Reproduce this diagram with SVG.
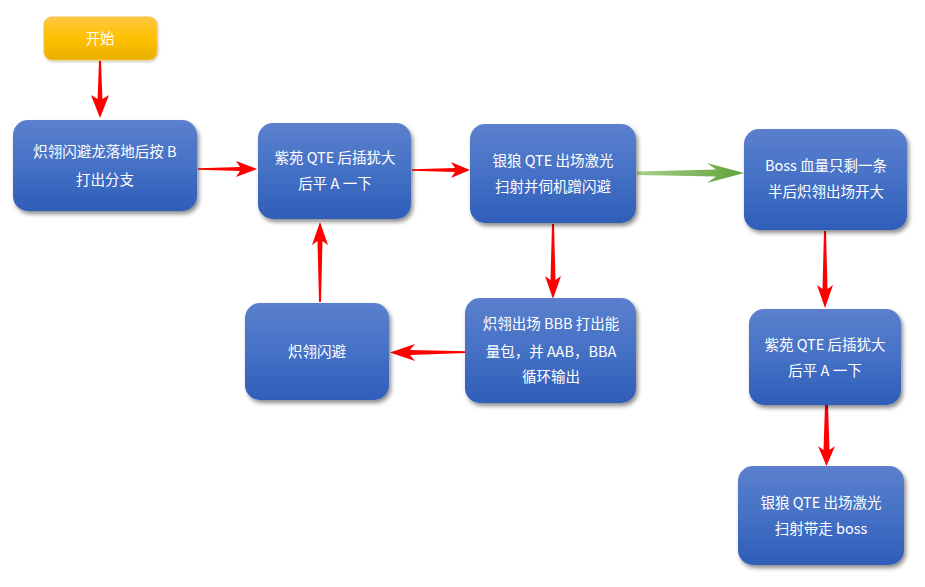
<svg xmlns="http://www.w3.org/2000/svg" width="925" height="587" viewBox="0 0 925 587">
<defs>
<linearGradient id="gb" x1="0" y1="0" x2="0" y2="1">
<stop offset="0" stop-color="#5b80cd"/>
<stop offset="0.5" stop-color="#4571c6"/>
<stop offset="1" stop-color="#2f5db8"/>
</linearGradient>
<linearGradient id="gy" x1="0" y1="0" x2="0" y2="1">
<stop offset="0" stop-color="#ffc844"/>
<stop offset="0.5" stop-color="#ffc000"/>
<stop offset="1" stop-color="#e8b000"/>
</linearGradient>
<linearGradient id="gg" x1="0" y1="0" x2="1" y2="0">
<stop offset="0" stop-color="#a8d08d"/>
<stop offset="1" stop-color="#5fa238"/>
</linearGradient>
<filter id="sh" x="-20%" y="-20%" width="140%" height="150%">
<feDropShadow dx="2" dy="3" stdDeviation="2.2" flood-color="#000" flood-opacity="0.45"/>
</filter>
<filter id="sy" x="-20%" y="-20%" width="140%" height="150%">
<feDropShadow dx="1" dy="1.5" stdDeviation="1" flood-color="#000" flood-opacity="0.2"/>
</filter>
</defs>
<style>
.n{fill:url(#gb);filter:url(#sh);}
.s{fill:url(#gy);stroke:#f5c242;stroke-width:1;filter:url(#sy);}
.t{font-family:"Noto Sans CJK SC","Liberation Sans",sans-serif;font-size:14.5px;fill:#fff;text-anchor:middle;}
.r{fill:#ff0000;}
.g{fill:url(#gg);}
</style>
<rect width="925" height="587" fill="#fff"/>

<g id="connectors">
<path class="r" d="M99,61 L97.6,99 L91,95 L100,118 L109,95 L102.4,99 L101,61 Z"/>
<path class="r" d="M198,168.2 L240,167 L236,161 L257,169 L236,177 L240,171 L198,169.8 Z"/>
<path class="r" d="M412,169.2 L455,168 L451,162 L470,170 L451,178 L455,172 L412,170.8 Z"/>
<path class="g" d="M637,171.5 L716,169.5 L707,163 L744,173 L707,183 L716,176.5 L637,175 Z"/>
<path class="r" d="M552,224 L550.5,280 L545,276 L553,299 L561,276 L555.5,280 L554,224 Z"/>
<path class="r" d="M466,351.2 L410,350 L415,344 L390,352.5 L415,361 L410,355 L466,353 Z"/>
<path class="r" d="M319,302 L317.5,241 L312,245 L320,222 L328,245 L322.5,241 L321,302 Z"/>
<path class="r" d="M824,231 L822.5,289 L817,285 L825,308 L833,285 L827.5,289 L826,231 Z"/>
<path class="r" d="M825,405 L823.5,450 L818,446 L826.5,466 L835,446 L829.5,450 L828,405 Z"/>
</g>

<g id="start">
<rect class="s" x="44" y="17" width="113" height="43" rx="8"/>
<text class="t" x="100" y="44">开始</text>
</g>
<g id="n1">
<rect class="n" x="13" y="120" width="184" height="91" rx="15"/>
<text class="t" x="105" y="157">炽翎闪避龙落地后按 B</text>
<text class="t" x="105" y="185">打出分支</text>
</g>
<g id="n2">
<rect class="n" x="258" y="123" width="153" height="96" rx="15"/>
<text class="t" x="335" y="163">紫苑 QTE 后插犹大</text>
<text class="t" x="335" y="189">后平 A 一下</text>
</g>
<g id="n3">
<rect class="n" x="470" y="124" width="166" height="99" rx="15"/>
<text class="t" x="553" y="166">银狼 QTE 出场激光</text>
<text class="t" x="553" y="192">扫射并伺机蹭闪避</text>
</g>
<g id="n4">
<rect class="n" x="744" y="129" width="163" height="101" rx="15"/>
<text class="t" x="826" y="171">Boss 血量只剩一条</text>
<text class="t" x="826" y="197">半后炽翎出场开大</text>
</g>
<g id="n5">
<rect class="n" x="465" y="298" width="171" height="105" rx="15"/>
<text class="t" x="551" y="329">炽翎出场 BBB 打出能</text>
<text class="t" x="551" y="357">量包，并 AAB，BBA</text>
<text class="t" x="551" y="382">循环输出</text>
</g>
<g id="n6">
<rect class="n" x="245" y="303" width="144" height="97" rx="15"/>
<text class="t" x="317" y="357">炽翎闪避</text>
</g>
<g id="n7">
<rect class="n" x="749" y="309" width="152" height="96" rx="15"/>
<text class="t" x="825" y="350">紫苑 QTE 后插犹大</text>
<text class="t" x="825" y="376">后平 A 一下</text>
</g>
<g id="n8">
<rect class="n" x="738" y="466" width="166" height="99" rx="15"/>
<text class="t" x="821" y="508">银狼 QTE 出场激光</text>
<text class="t" x="821" y="534">扫射带走 boss</text>
</g>
</svg>
